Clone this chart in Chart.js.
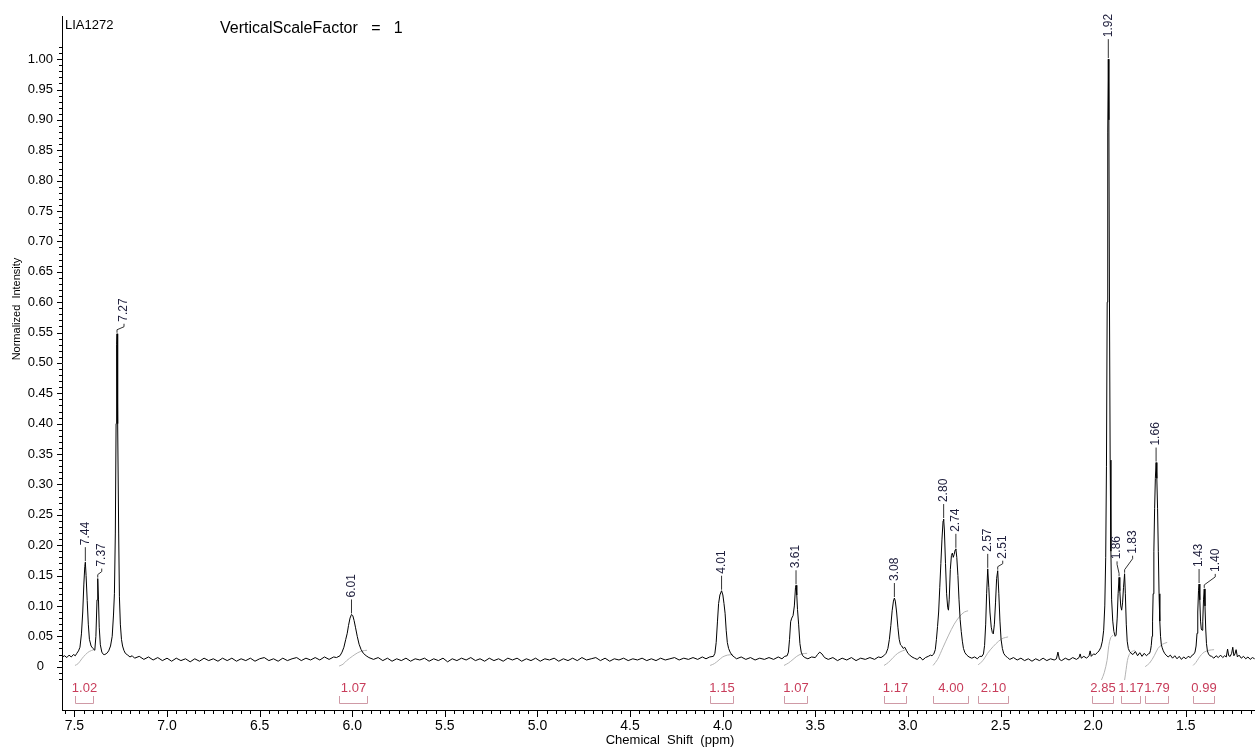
<!DOCTYPE html>
<html>
<head>
<meta charset="utf-8">
<title>LIA1272 1H NMR</title>
<script src="https://cdn.jsdelivr.net/npm/chart.js@4.4.1/dist/chart.umd.min.js"></script>
<style>
  html, body { margin: 0; padding: 0; background: #fff; }
  canvas { display: block; }
</style>
</head>
<body>
<canvas id="nmrChart" width="1255" height="747"></canvas>
<script>
// sample header
var sampleName = 'LIA1272';
var scaleNote = 'VerticalScaleFactor   =   1';

// axis ticks
var xTicks = [7.5, 7.0, 6.5, 6.0, 5.5, 5.0, 4.5, 4.0, 3.5, 3.0, 2.5, 2.0, 1.5];
var yTicks = [0, 0.05, 0.10, 0.15, 0.20, 0.25, 0.30, 0.35, 0.40, 0.45, 0.50,
              0.55, 0.60, 0.65, 0.70, 0.75, 0.80, 0.85, 0.90, 0.95, 1.00];

// spectrum: [shift ppm, normalized intensity]
var spectrum = [
  [7.565,0.016],[7.553,0.018],[7.541,0.015],[7.529,0.019],[7.517,0.016],[7.505,0.02],[7.495,0.018],
  [7.487,0.022],[7.478,0.026],[7.47,0.032],[7.462,0.054],[7.455,0.09],[7.449,0.136],[7.444,0.165],[7.441,0.172],
  [7.437,0.15],[7.431,0.109],[7.425,0.07],[7.419,0.045],[7.41,0.034],[7.4,0.03],[7.39,0.027],[7.384,0.05],
  [7.378,0.11],[7.374,0.145],[7.37,0.11],[7.366,0.065],[7.36,0.036],[7.352,0.024],[7.343,0.02],[7.336,0.02],
  [7.325,0.022],[7.315,0.026],[7.305,0.034],[7.296,0.05],[7.289,0.085],[7.284,0.12],[7.279,0.22],[7.275,0.4],
  [7.272,0.53],[7.27,0.548],[7.268,0.53],[7.265,0.4],[7.261,0.22],[7.257,0.115],[7.252,0.07],[7.246,0.045],
  [7.24,0.034],[7.233,0.027],[7.225,0.022],
  [7.212,0.019],[7.2,0.016],[7.188,0.018],[7.175,0.014],[7.15,0.017],[7.125,0.012],[7.1,0.016],[7.075,0.011],
  [7.05,0.015],[7.025,0.01],[7.0,0.014],[6.975,0.009],[6.95,0.014],[6.925,0.01],[6.9,0.013],[6.875,0.008],
  [6.85,0.013],[6.825,0.009],[6.8,0.014],[6.775,0.01],[6.75,0.013],[6.725,0.009],[6.7,0.014],[6.675,0.01],
  [6.65,0.014],[6.625,0.009],[6.6,0.013],[6.575,0.01],[6.55,0.014],[6.525,0.009],[6.5,0.013],[6.475,0.015],
  [6.45,0.01],[6.425,0.013],[6.4,0.009],[6.375,0.014],[6.35,0.01],[6.325,0.013],[6.3,0.015],[6.275,0.01],
  [6.25,0.014],[6.225,0.011],[6.2,0.015],[6.175,0.011],[6.15,0.016],[6.125,0.012],[6.1,0.016],[6.085,0.015],
  [6.066,0.018],[6.055,0.024],[6.045,0.032],[6.035,0.045],[6.027,0.055],[6.02,0.068],[6.012,0.08],[6.004,0.086],
  [5.997,0.084],[5.99,0.076],[5.982,0.064],[5.973,0.05],[5.963,0.037],[5.952,0.028],[5.94,0.022],[5.925,0.018],
  [5.91,0.015],
  [5.885,0.012],[5.86,0.015],[5.835,0.01],[5.81,0.014],[5.785,0.009],[5.76,0.013],[5.735,0.01],[5.71,0.014],
  [5.685,0.009],[5.66,0.013],[5.635,0.011],[5.61,0.014],[5.585,0.009],[5.56,0.013],[5.535,0.01],[5.51,0.014],
  [5.485,0.008],[5.46,0.013],[5.435,0.01],[5.41,0.014],[5.385,0.011],[5.36,0.015],[5.335,0.01],[5.31,0.013],
  [5.285,0.009],[5.26,0.014],[5.235,0.01],[5.21,0.013],[5.185,0.009],[5.16,0.014],[5.135,0.011],[5.11,0.014],
  [5.085,0.009],[5.06,0.013],[5.035,0.01],[5.01,0.014],[4.985,0.009],[4.96,0.013],[4.935,0.011],[4.91,0.014],
  [4.885,0.009],[4.86,0.013],[4.835,0.01],[4.81,0.014],[4.785,0.01],[4.76,0.015],[4.735,0.011],[4.71,0.013],
  [4.685,0.015],[4.66,0.01],[4.635,0.014],[4.61,0.009],[4.585,0.013],[4.56,0.011],[4.535,0.014],[4.51,0.01],
  [4.485,0.013],[4.46,0.011],[4.435,0.014],[4.41,0.01],[4.385,0.013],[4.36,0.01],[4.335,0.014],[4.31,0.011],
  [4.285,0.013],[4.26,0.015],[4.235,0.011],[4.21,0.014],[4.185,0.012],[4.16,0.015],[4.135,0.012],[4.11,0.016],
  [4.09,0.013],[4.07,0.016],
  [4.05,0.017],[4.042,0.022],[4.035,0.04],[4.028,0.075],[4.022,0.104],[4.015,0.118],[4.006,0.125],[3.999,0.118],
  [3.993,0.104],[3.987,0.088],[3.981,0.06],[3.975,0.04],[3.968,0.03],[3.96,0.024],[3.95,0.019],[3.938,0.016],
  [3.925,0.013],[3.9,0.016],[3.875,0.012],[3.85,0.015],[3.825,0.011],[3.8,0.014],[3.775,0.012],[3.75,0.015],
  [3.725,0.012],[3.7,0.016],[3.68,0.013],[3.665,0.017],
  [3.652,0.018],[3.645,0.024],[3.639,0.045],[3.633,0.074],[3.627,0.08],[3.62,0.084],[3.613,0.1],[3.607,0.13],
  [3.604,0.134],[3.6,0.118],[3.596,0.094],[3.59,0.07],[3.583,0.038],[3.576,0.024],[3.568,0.018],[3.556,0.015],
  [3.54,0.013],[3.52,0.016],[3.5,0.015],[3.488,0.02],[3.476,0.024],[3.464,0.021],[3.45,0.015],[3.43,0.012],
  [3.405,0.015],[3.38,0.01],[3.355,0.014],[3.33,0.011],[3.305,0.015],[3.28,0.01],[3.255,0.014],[3.23,0.012],
  [3.205,0.015],[3.18,0.012],[3.16,0.016],[3.145,0.015],
  [3.13,0.018],[3.118,0.022],[3.108,0.03],[3.1,0.045],[3.092,0.068],[3.085,0.092],[3.078,0.108],[3.073,0.113],
  [3.068,0.108],[3.061,0.09],[3.054,0.065],[3.047,0.045],[3.04,0.036],[3.033,0.034],[3.025,0.03],[3.017,0.032],
  [3.008,0.027],[3.0,0.022],[2.99,0.019],[2.978,0.016],
  [2.965,0.014],[2.95,0.012],[2.935,0.016],[2.92,0.011],[2.905,0.015],[2.89,0.017],[2.878,0.019],
  [2.87,0.018],[2.86,0.021],[2.852,0.028],[2.846,0.045],[2.84,0.066],[2.834,0.09],[2.828,0.13],[2.822,0.17],
  [2.816,0.21],[2.81,0.24],[2.807,0.243],[2.803,0.225],[2.797,0.17],[2.791,0.12],[2.785,0.097],[2.781,0.093],
  [2.777,0.11],[2.771,0.16],[2.765,0.183],[2.76,0.187],[2.755,0.18],[2.75,0.185],[2.745,0.192],[2.741,0.194],
  [2.736,0.18],[2.73,0.15],[2.724,0.11],[2.718,0.078],[2.712,0.058],[2.706,0.042],[2.7,0.03],[2.692,0.023],
  [2.682,0.019],[2.67,0.016],
  [2.655,0.014],[2.64,0.016],[2.625,0.013],[2.612,0.017],
  [2.6,0.017],[2.592,0.021],[2.586,0.035],[2.58,0.07],[2.575,0.12],[2.569,0.161],[2.563,0.13],[2.557,0.09],
  [2.55,0.065],[2.544,0.056],[2.539,0.054],[2.533,0.07],[2.527,0.105],[2.521,0.145],[2.515,0.158],[2.509,0.12],
  [2.503,0.075],[2.497,0.045],[2.49,0.03],[2.483,0.022],[2.474,0.018],[2.462,0.015],
  [2.45,0.012],[2.43,0.015],[2.41,0.011],[2.39,0.014],[2.37,0.01],[2.35,0.013],[2.33,0.009],[2.31,0.013],
  [2.29,0.01],[2.27,0.014],[2.25,0.01],[2.23,0.013],[2.21,0.011],[2.198,0.013],[2.19,0.024],[2.182,0.012],
  [2.17,0.01],[2.15,0.014],[2.13,0.011],[2.11,0.015],[2.09,0.012],[2.076,0.015],[2.07,0.021],[2.064,0.014],
  [2.05,0.017],[2.035,0.014],[2.022,0.018],[2.016,0.026],[2.01,0.017],[1.998,0.021],[1.988,0.02],
  [1.978,0.023],[1.968,0.026],[1.958,0.032],[1.95,0.042],[1.943,0.06],[1.937,0.1],[1.932,0.18],[1.928,0.33],
  [1.924,0.6],[1.921,0.88],[1.918,1.0],[1.915,0.9],[1.912,0.62],[1.908,0.34],[1.904,0.19],[1.9,0.11],
  [1.894,0.075],[1.888,0.058],[1.881,0.05],[1.876,0.052],[1.87,0.08],[1.865,0.12],[1.86,0.147],[1.856,0.125],
  [1.851,0.1],[1.846,0.093],[1.841,0.105],[1.836,0.13],[1.83,0.153],[1.826,0.12],[1.821,0.07],[1.816,0.042],
  [1.81,0.03],[1.803,0.025],[1.795,0.022],
  [1.785,0.02],[1.772,0.025],[1.76,0.018],[1.748,0.023],[1.736,0.017],[1.724,0.022],[1.712,0.018],[1.702,0.021],
  [1.695,0.022],[1.69,0.027],[1.686,0.035],[1.682,0.05],[1.679,0.075],[1.676,0.12],[1.672,0.19],[1.668,0.26],
  [1.664,0.31],[1.66,0.336],[1.656,0.31],[1.652,0.26],[1.648,0.19],[1.644,0.12],[1.64,0.075],[1.636,0.05],
  [1.632,0.037],[1.627,0.031],[1.621,0.026],[1.614,0.022],[1.606,0.019],
  [1.595,0.016],[1.583,0.019],[1.571,0.014],[1.559,0.018],[1.547,0.013],[1.535,0.017],[1.523,0.012],[1.511,0.016],
  [1.499,0.013],[1.487,0.017],[1.475,0.015],[1.465,0.019],
  [1.458,0.02],[1.45,0.024],[1.444,0.034],[1.439,0.055],[1.435,0.09],[1.431,0.125],[1.428,0.136],[1.424,0.11],
  [1.42,0.075],[1.416,0.062],[1.412,0.06],[1.408,0.075],[1.404,0.11],[1.4,0.128],[1.396,0.1],[1.392,0.062],
  [1.388,0.038],[1.383,0.026],[1.377,0.021],[1.37,0.018],
  [1.36,0.017],[1.348,0.014],[1.336,0.018],[1.324,0.015],[1.312,0.019],[1.3,0.015],[1.29,0.018],[1.281,0.016],
  [1.274,0.029],[1.268,0.018],[1.26,0.017],[1.252,0.022],[1.246,0.032],[1.24,0.018],[1.234,0.021],[1.228,0.028],
  [1.221,0.016],[1.212,0.019],[1.2,0.014],[1.188,0.017],[1.176,0.013],[1.164,0.016],[1.152,0.012],[1.14,0.015],
  [1.128,0.013]
];

// peak picking
var peakLabels = ['7.44','7.37','7.27','6.01','4.01','3.61','3.08','2.80','2.74','2.57','2.51','1.92','1.86','1.83','1.66','1.43','1.40'];
var peakPpm = [7.441, 7.374, 7.27, 6.004, 4.006, 3.604, 3.073, 2.807, 2.741, 2.569, 2.515, 1.918, 1.86, 1.83, 1.66, 1.428, 1.4];

// integration regions
var intStart = [7.497, 6.071, 4.068, 3.669, 3.129, 2.864, 2.621, 2.005, 1.849, 1.719, 1.46];
var intEnd = [7.40, 5.92, 3.944, 3.544, 3.01, 2.675, 2.459, 1.892, 1.746, 1.595, 1.347];
var intValues = ['1.02','1.07','1.15','1.07','1.17','4.00','2.10','2.85','1.17','1.79','0.99'];
var intCurves = [
  [[7.497,0.002],[7.48,0.005],[7.46,0.013],[7.44,0.02],[7.42,0.025],[7.395,0.028]],
  [[6.071,0.001],[6.05,0.004],[6.03,0.01],[6.0,0.017],[5.97,0.023],[5.945,0.026],[5.92,0.027]],
  [[4.068,0.002],[4.045,0.005],[4.02,0.011],[4.0,0.016],[3.975,0.019],[3.944,0.02]],
  [[3.669,0.002],[3.645,0.006],[3.62,0.012],[3.6,0.017],[3.575,0.021],[3.544,0.022]],
  [[3.129,0.002],[3.105,0.007],[3.08,0.015],[3.055,0.022],[3.03,0.026],[3.01,0.028]],
  [[2.864,0.002],[2.84,0.012],[2.81,0.032],[2.78,0.052],[2.75,0.07],[2.72,0.083],[2.695,0.09],[2.675,0.092]],
  [[2.621,0.003],[2.595,0.01],[2.57,0.022],[2.54,0.033],[2.51,0.042],[2.485,0.047],[2.459,0.049]],
  [[1.955,-0.022],[1.94,-0.01],[1.925,0.01],[1.915,0.035],[1.905,0.048],[1.892,0.052]],
  [[1.83,-0.022],[1.822,-0.005],[1.815,0.01],[1.805,0.02],[1.79,0.025],[1.775,0.027]],
  [[1.719,0.0],[1.695,0.006],[1.67,0.018],[1.65,0.03],[1.625,0.037],[1.6,0.04]],
  [[1.46,0.002],[1.445,0.007],[1.43,0.014],[1.415,0.02],[1.4,0.024],[1.375,0.027],[1.347,0.028]]
];

var FONT = "'Liberation Sans', Arial, sans-serif";

// label shifts for crowded peaks, in px
var labelNudge = {
  '7.37': [4, 5], '7.27': [7, 5], '2.51': [5, 5],
  '1.92': [0, -5], '1.86': [-2, -1], '1.83': [8, -3], '1.40': [11, 0]
};

function apexOf(p) {
  var best = 0;
  spectrum.forEach(function (pt) {
    if (Math.abs(pt[0] - p) <= 0.005 && pt[1] > best) best = pt[1];
  });
  return best;
}

var decor = {
  id: 'decor',
  afterDraw: function (chart) {
    var ctx = chart.ctx, a = chart.chartArea;
    var xs = chart.scales.x, ys = chart.scales.y;
    ctx.save();

    // axis tick marks
    ctx.strokeStyle = '#000';
    ctx.lineWidth = 1;
    ctx.beginPath();
    for (var i = -2; i <= 102; i++) {
      var py = Math.round(ys.getPixelForValue(i / 100)) + 0.5;
      var len = i % 5 === 0 ? 5 : 3;
      ctx.moveTo(a.left - len, py);
      ctx.lineTo(a.left, py);
    }
    for (var j = 23; j <= 151; j++) {
      var px = Math.round(xs.getPixelForValue(j * 0.05)) + 0.5;
      var tl = j % 10 === 0 ? 7 : 4;
      ctx.moveTo(px, a.bottom);
      ctx.lineTo(px, a.bottom + tl);
    }
    ctx.stroke();

    // header texts
    ctx.fillStyle = '#000';
    ctx.textBaseline = 'middle';
    ctx.textAlign = 'left';
    ctx.font = '13px ' + FONT;
    ctx.fillText(sampleName, 65, 25);
    ctx.font = '16px ' + FONT;
    ctx.fillText(scaleNote, 220, 29);

    // axis titles
    ctx.textAlign = 'center';
    ctx.font = '13px ' + FONT;
    ctx.fillText('Chemical  Shift  (ppm)', 670, 740);
    ctx.save();
    ctx.translate(17, 309);
    ctx.rotate(-Math.PI / 2);
    ctx.font = '11px ' + FONT;
    ctx.fillText('Normalized  Intensity', 0, 0);
    ctx.restore();

    // integration brackets and values
    intValues.forEach(function (val, k) {
      var x1 = Math.round(xs.getPixelForValue(intStart[k])) + 0.5;
      var x2 = Math.round(xs.getPixelForValue(intEnd[k])) + 0.5;
      ctx.strokeStyle = '#cf9aa6';
      ctx.beginPath();
      ctx.moveTo(x1, a.bottom - 14);
      ctx.lineTo(x1, a.bottom - 6.5);
      ctx.lineTo(x2, a.bottom - 6.5);
      ctx.lineTo(x2, a.bottom - 14);
      ctx.stroke();
      ctx.fillStyle = '#c83c5a';
      ctx.font = '13px ' + FONT;
      ctx.textAlign = 'center';
      ctx.fillText(val, (x1 + x2) / 2, a.bottom - 22);
    });

    // peak labels with leaders
    ctx.strokeStyle = '#333';
    ctx.fillStyle = '#1e1e3c';
    ctx.font = '12px ' + FONT;
    peakLabels.forEach(function (lab, k) {
      var px = xs.getPixelForValue(peakPpm[k]);
      var py = ys.getPixelForValue(apexOf(peakPpm[k]));
      var n = labelNudge[lab] || [0, 0];
      var tx = px + n[0], tb = py - 15 + n[1];
      ctx.beginPath();
      ctx.moveTo(px, py - 1);
      if (n[0]) {
        ctx.lineTo(px, py - 4);
        ctx.lineTo(tx, tb + 3);
      }
      ctx.lineTo(tx, tb);
      ctx.stroke();
      ctx.save();
      ctx.translate(tx, tb - 2);
      ctx.rotate(-Math.PI / 2);
      ctx.textAlign = 'left';
      ctx.textBaseline = 'middle';
      ctx.fillText(lab, 0, 0);
      ctx.restore();
    });

    ctx.restore();
  }
};

var datasets = [{
  data: spectrum.map(function (p) { return { x: p[0], y: p[1] }; }),
  showLine: true,
  borderColor: '#000',
  borderWidth: 1,
  pointRadius: 0,
  tension: 0
}];
intCurves.forEach(function (c) {
  datasets.push({
    data: c.map(function (p) { return { x: p[0], y: p[1] }; }),
    showLine: true,
    borderColor: '#b4b4b4',
    borderWidth: 1,
    pointRadius: 0,
    tension: 0.3
  });
});

var ctx = document.getElementById('nmrChart').getContext('2d');
var nmrChart = new Chart(ctx, {
  type: 'scatter',
  data: { datasets: datasets },
  options: {
    responsive: false,
    animation: false,
    layout: { padding: { top: 14, right: 0, left: 0, bottom: 0 } },
    plugins: { legend: { display: false }, tooltip: { enabled: false } },
    scales: {
      x: {
        type: 'linear',
        reverse: true,
        min: 1.126,
        max: 7.567,
        afterBuildTicks: function (s) { s.ticks = xTicks.map(function (v) { return { value: v }; }); },
        afterFit: function (s) { s.height = 37; },
        grid: { display: true, drawOnChartArea: false, drawTicks: false },
        border: { display: true, color: '#000', width: 1 },
        ticks: {
          autoSkip: false, maxRotation: 0, padding: 8, color: '#000',
          font: { family: FONT, size: 14 },
          callback: function (v) { return v.toFixed(1); }
        }
      },
      y: {
        min: -0.0713,
        max: 1.0697,
        afterBuildTicks: function (s) { s.ticks = yTicks.map(function (v) { return { value: v }; }); },
        afterFit: function (s) { s.width = 62; },
        grid: { display: true, drawOnChartArea: false, drawTicks: false },
        border: { display: true, color: '#000', width: 1 },
        ticks: {
          autoSkip: false, crossAlign: 'center', padding: 9, color: '#000',
          font: { family: FONT, size: 13 },
          callback: function (v) { return v === 0 ? '0' : v.toFixed(2); }
        }
      }
    }
  },
  plugins: [decor]
});
</script>
</body>
</html>
